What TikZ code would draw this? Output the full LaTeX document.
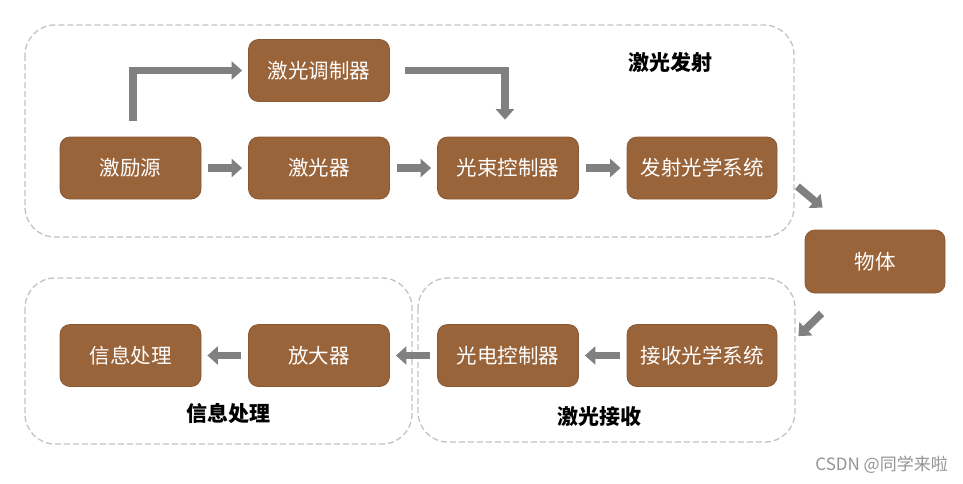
\documentclass[tikz,border=0pt]{standalone}
\usepackage{fontspec}
\setmainfont{Noto Sans CJK SC}
\usetikzlibrary{arrows.meta}
\definecolor{boxbrown}{RGB}{154,100,58}
\definecolor{boxedge}{RGB}{135,88,52}
\definecolor{arrgray}{RGB}{128,128,128}
\definecolor{framegray}{RGB}{195,195,195}
\tikzset{
  stepbox/.style={fill=boxbrown, draw=boxedge, line width=0.8pt, rounded corners=10pt,
    minimum width=141pt, minimum height=62pt, inner sep=0pt, text=white,
    font=\fontsize{20.5}{24}\selectfont},
  arr/.style={draw=arrgray, line width=7.5pt,
    -{Triangle[width=18pt,length=10.5pt]}, shorten <=7pt, shorten >=6pt},
  frame/.style={draw=framegray, line width=1.3pt, dash pattern=on 6pt off 3pt, rounded corners=30pt},
  grouplabel/.style={font=\fontsize{21}{24}\selectfont\bfseries, text=black}
}
\begin{document}
\begin{tikzpicture}[x=1pt,y=-1pt]
\useasboundingbox (0,0) rectangle (963,483);
% frames
\draw[frame] (25,25) rectangle (794,237);
\draw[frame] (25,278) rectangle (412,444);
\draw[frame] (418,278) rectangle (795,442);
% group labels
\node[grouplabel] (lfs) at (670,62) {激光发射};
\node[grouplabel] (lxx) at (228,413) {信息处理};
\node[grouplabel] (ljs) at (599,417) {激光接收};
% boxes
\node[stepbox] (tz) at (319,70.5) {激光调制器};
\node[stepbox] (jly) at (130.5,168) {激励源};
\node[stepbox] (jgq) at (319,168) {激光器};
\node[stepbox] (gk) at (508,168) {光束控制器};
\node[stepbox, minimum width=150pt] (fs) at (702,168) {发射光学系统};
\node[stepbox, minimum width=140pt, minimum height=63pt] (wt) at (875,261.5) {物体};
\node[stepbox] (xx) at (130.5,355.5) {信息处理};
\node[stepbox] (fd) at (319,355.5) {放大器};
\node[stepbox] (gd) at (508,355.5) {光电控制器};
\node[stepbox, minimum width=150pt] (js) at (702,355.5) {接收光学系统};
% connectors
\draw[arr] (jly) -- (jgq);
\draw[arr] (jgq) -- (gk);
\draw[arr] (gk) -- (fs);
\draw[arr, shorten <=16pt] ([xshift=2.5pt]jly.north) |- (tz.west);
\draw[arr, shorten <=15pt, shorten >=17pt] (tz.east) -| ([xshift=-3pt]gk.north);
\draw[arr, shorten <=0pt, shorten >=0pt] ([shift={(20,-13)}]fs.south east) -- ([shift={(18,-22)}]wt.north west);
\draw[arr, shorten <=0pt, shorten >=0pt] ([shift={(17,20)}]wt.south west) -- ([shift={(21,12)}]js.north east);
\draw[arr] (js) -- (gd);
\draw[arr] (gd) -- (fd);
\draw[arr] (fd) -- (xx);
% watermark
\node[anchor=east, text=black!42, font=\fontsize{17}{20}\selectfont, inner sep=0pt] (wm) at (948,465) {CSDN @同学来啦};
\end{tikzpicture}
\end{document}
